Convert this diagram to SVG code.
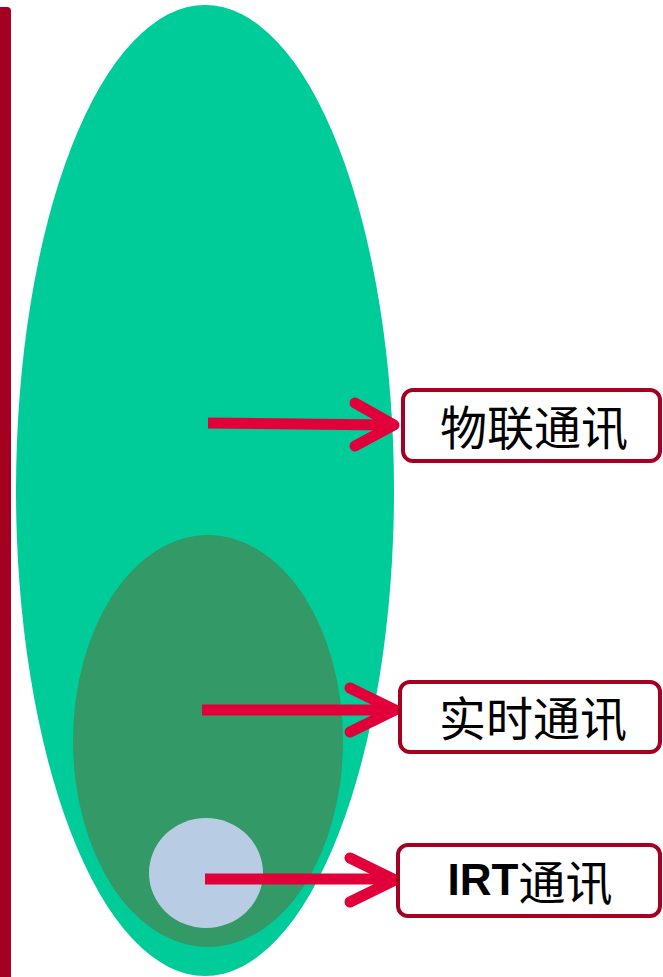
<svg xmlns="http://www.w3.org/2000/svg" width="663" height="977" viewBox="0 0 663 977">
<style>
.lbl{fill:#fff;stroke:#a50021;stroke-width:4}
.shaft{stroke:#e2003a;stroke-width:11;fill:none}
.head{stroke:#e2003a;stroke-width:11;fill:none;stroke-linecap:round;stroke-linejoin:round}
.cn{font-family:"Noto Sans CJK SC","Liberation Serif",serif;font-size:47px;font-weight:400;fill:#000}
.lat{font-family:"Liberation Sans","Noto Sans",sans-serif;font-weight:bold;font-size:44px}
</style>
<rect width="663" height="977" fill="#fff"/>
<g id="bar"><path d="M0 7 H7 Q11 7 11 11 V977 H0 Z" fill="#a50021"/></g>
<g id="iot-ellipse"><ellipse cx="205" cy="490.5" rx="189" ry="485.5" fill="#00cc99"/></g>
<g id="rt-ellipse"><ellipse cx="208" cy="741" rx="135" ry="206" fill="#339966"/></g>
<g id="irt-circle"><ellipse cx="206" cy="873" rx="57" ry="55" fill="#b8cce4"/></g>
<g id="connectors">
<path class="shaft" d="M208 423 L388 425"/>
<path class="head" d="M355 403 L394 425 L355 446"/>
<path class="shaft" d="M202 710 L390 710"/>
<path class="head" d="M350 688 L395 710 L350 732"/>
<path class="shaft" d="M205 879 L390 879"/>
<path class="head" d="M350 858 L395 880 L350 902"/>
</g>
<g id="node-iot">
<rect class="lbl" x="403" y="390" width="257" height="71" rx="10"/>
<text class="cn" x="534" y="424" text-anchor="middle" dominant-baseline="central">物联通讯</text>
</g>
<g id="node-rt">
<rect class="lbl" x="400" y="682" width="260" height="70" rx="10"/>
<text class="cn" x="533" y="715" text-anchor="middle" dominant-baseline="central">实时通讯</text>
</g>
<g id="node-irt">
<rect class="lbl" x="398" y="845" width="262" height="71" rx="10"/>
<text class="cn" x="530" y="879" text-anchor="middle" dominant-baseline="central"><tspan class="lat">IRT</tspan>通讯</text>
</g>
</svg>
